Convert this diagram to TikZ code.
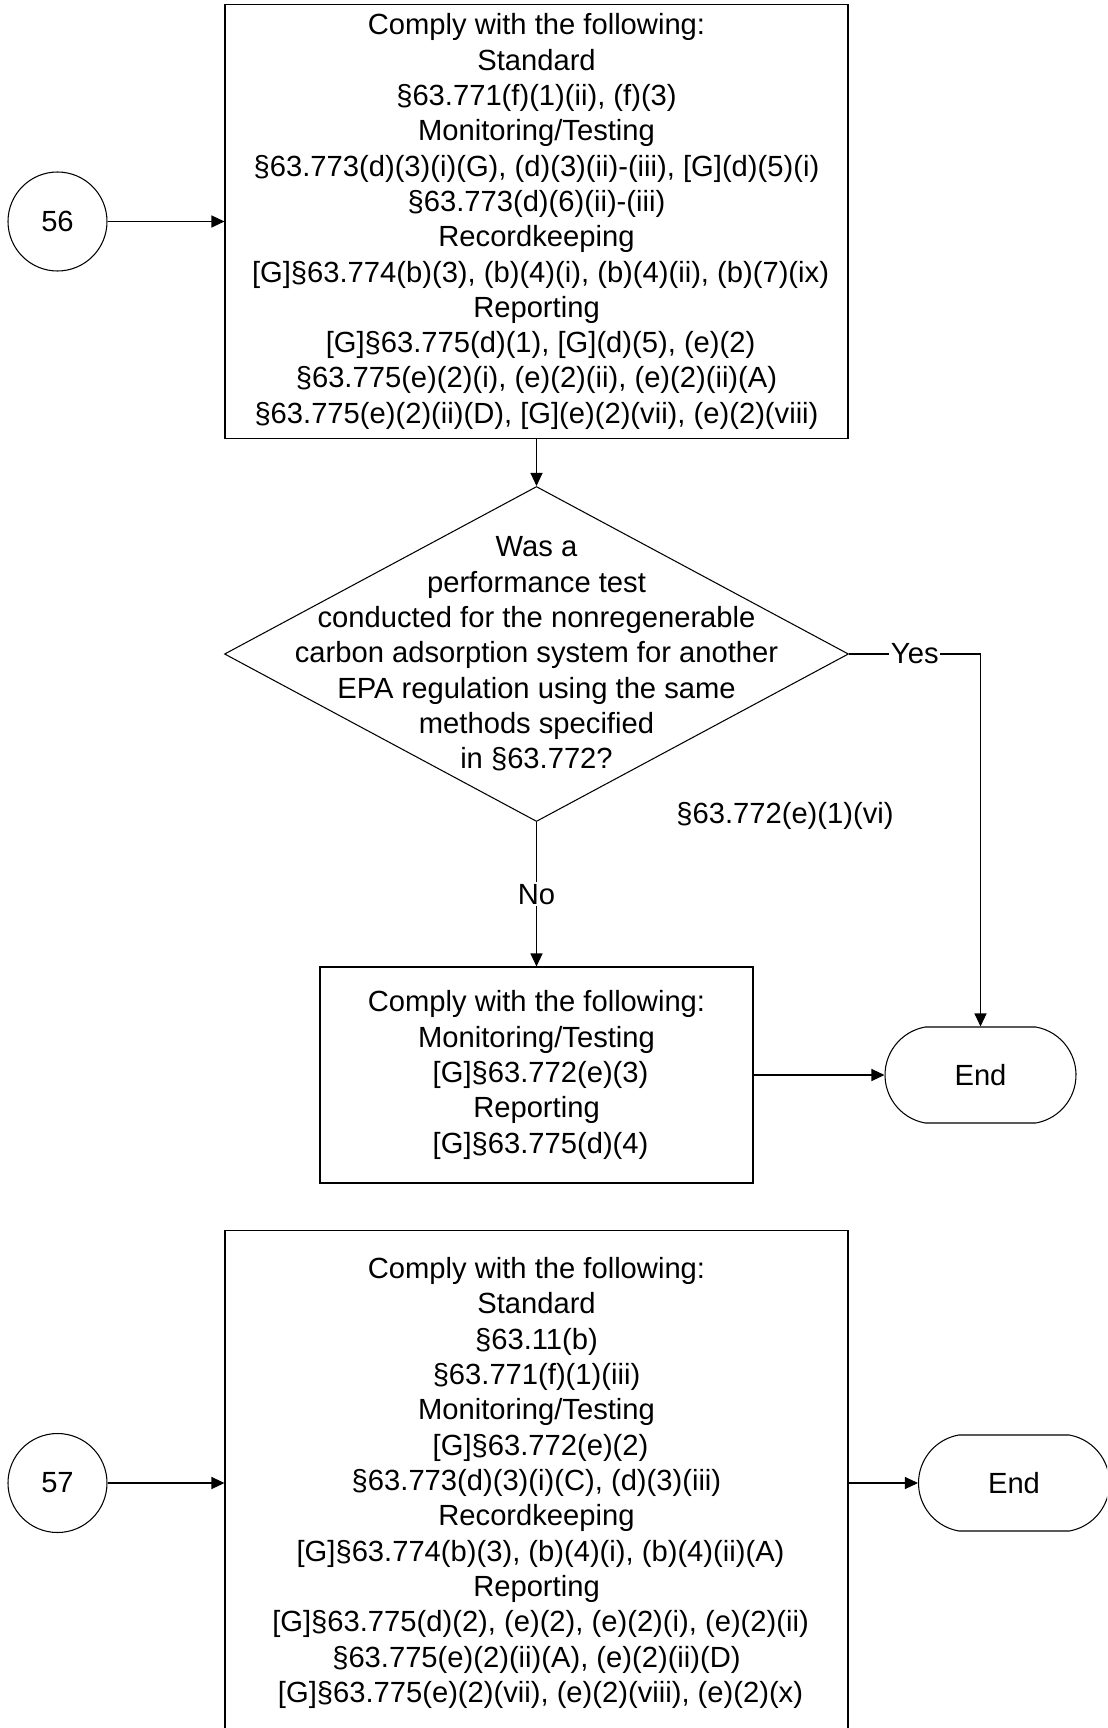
\documentclass[tikz,border=0pt]{standalone}
\usepackage{fontspec}
\setmainfont{Liberation Sans}
\usetikzlibrary{arrows.meta, positioning, shapes.geometric, shapes.misc}

\begin{document}
\begin{tikzpicture}[
  line width=0.6pt,
  font=\fontsize{16.6pt}{20.1pt}\selectfont,
  flow/.style={-{Triangle[length=0.26cm, width=0.24cm]}},
  rulebox/.style={draw, rectangle, align=center, inner sep=0pt},
  connector/.style={draw, circle, minimum size=1.98cm, inner sep=0pt},
  decision/.style={draw, diamond, minimum width=12.48cm, minimum height=6.70cm, inner sep=0pt},
  terminal/.style={draw, rounded rectangle, rounded rectangle arc length=160,
    minimum width=3.82cm, minimum height=1.92cm, inner sep=0pt},
  lbl/.style={fill=white, inner sep=1pt}
]
  % Page frame
  \useasboundingbox (0,0) rectangle (22.14,-34.56);
  \clip (0,0) rectangle (22.14,-34.56);

  % Connector 56 and first set of requirements
  \node[connector] (c56) at (1.15,-4.43) {56};
  \node[rulebox, minimum width=12.46cm, minimum height=8.67cm] (comply1) at (10.73,-4.43)
    {Comply with the following:\\
     Standard\\
     §63.771(f)(1)(ii), (f)(3)\\
     Monitoring/Testing\\
     §63.773(d)(3)(i)(G), (d)(3)(ii)-(iii), [G](d)(5)(i)\\
     §63.773(d)(6)(ii)-(iii)\\
     Recordkeeping\\{}
     [G]§63.774(b)(3), (b)(4)(i), (b)(4)(ii), (b)(7)(ix)\\
     Reporting\\{}
     [G]§63.775(d)(1), [G](d)(5), (e)(2)\\
     §63.775(e)(2)(i), (e)(2)(ii), (e)(2)(ii)(A)\\
     §63.775(e)(2)(ii)(D), [G](e)(2)(vii), (e)(2)(viii)};
  \draw[flow] (c56) -- (comply1);

  % Performance test question
  \node[decision] (q1) at (10.73,-13.08) {};
  \node[align=center] (q1text) at (q1) {Was a\\
     performance test\\
     conducted for the nonregenerable\\
     carbon adsorption system for another\\
     EPA regulation using the same\\
     methods specified\\
     in §63.772?};
  \draw[flow] (comply1.south) -- (q1.north);

  % No branch
  \node[rulebox, minimum width=8.66cm, minimum height=4.32cm] (comply2) at (10.73,-21.5)
    {Comply with the following:\\
     Monitoring/Testing\\{}
     [G]§63.772(e)(3)\\
     Reporting\\{}
     [G]§63.775(d)(4)};
  \draw[flow] (q1.south) -- node[lbl] {No} (comply2.north);

  % Yes branch
  \node[terminal] (end1) at (19.61,-21.5) {End};
  \draw[flow] (q1.east) -| node[lbl, pos=0.25] {Yes} (end1.north);
  \node (cite1) at (15.7,-16.32) {§63.772(e)(1)(vi)};
  \draw[flow] (comply2) -- (end1);

  % Connector 57
  \node[connector] (c57) at (1.15,-29.66) {57};
  \node[rulebox, minimum width=12.46cm, minimum height=10.1cm] (comply3) at (10.73,-29.66)
    {Comply with the following:\\
     Standard\\
     §63.11(b)\\
     §63.771(f)(1)(iii)\\
     Monitoring/Testing\\{}
     [G]§63.772(e)(2)\\
     §63.773(d)(3)(i)(C), (d)(3)(iii)\\
     Recordkeeping\\{}
     [G]§63.774(b)(3), (b)(4)(i), (b)(4)(ii)(A)\\
     Reporting\\{}
     [G]§63.775(d)(2), (e)(2), (e)(2)(i), (e)(2)(ii)\\
     §63.775(e)(2)(ii)(A), (e)(2)(ii)(D)\\{}
     [G]§63.775(e)(2)(vii), (e)(2)(viii), (e)(2)(x)};
  \node[terminal] (end2) at (20.28,-29.66) {End};
  \draw[flow] (c57) -- (comply3);
  \draw[flow] (comply3) -- (end2);
\end{tikzpicture}
\end{document}
